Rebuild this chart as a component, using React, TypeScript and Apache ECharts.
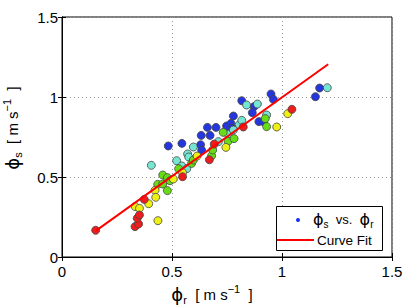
import React, { useEffect, useRef } from "react";
import * as echarts from "echarts";

const blue: number[][] = [
  [0.483, 0.694], [0.545, 0.71], [0.661, 0.81], [0.7, 0.81], [0.633, 0.76], [0.673, 0.76],
  [0.63, 0.702], [0.635, 0.667], [0.748, 0.819], [0.768, 0.835], [0.779, 0.881], [0.771, 0.804],
  [0.817, 0.977], [0.873, 0.94], [0.865, 0.902], [0.95, 1.019], [0.961, 0.985], [0.895, 0.846],
  [0.915, 0.846], [1.152, 1.002], [1.171, 1.056],
];
const cyan: number[][] = [
  [0.406, 0.573], [0.521, 0.602], [0.545, 0.569], [0.567, 0.552], [0.571, 0.644], [0.576, 0.625],
  [0.597, 0.6875], [0.711, 0.721], [0.756, 0.767], [0.779, 0.794], [0.806, 0.827], [0.817, 0.854],
  [0.839, 0.95], [0.888, 0.956], [0.93, 0.8875], [1.206, 1.058],
];
const green: number[][] = [
  [0.458, 0.5125], [0.479, 0.496], [0.491, 0.477], [0.435, 0.454], [0.458, 0.456], [0.479, 0.415],
  [0.53, 0.552], [0.589, 0.585], [0.597, 0.606], [0.68, 0.633], [0.685, 0.669], [0.733, 0.779],
  [0.755, 0.723], [0.782, 0.74], [0.924, 0.865], [0.93, 0.815],
];
const yellow: number[][] = [
  [0.333, 0.315], [0.352, 0.304], [0.394, 0.333], [0.423, 0.417], [0.426, 0.373], [0.436, 0.227],
  [0.506, 0.4875], [0.548, 0.527], [0.614, 0.631], [0.745, 0.685], [0.976, 0.8125], [1.026, 0.896],
];
const red: number[][] = [
  [0.153, 0.167], [0.332, 0.19], [0.348, 0.206], [0.342, 0.242], [0.352, 0.2625], [0.374, 0.36],
  [0.548, 0.502], [0.67, 0.608], [0.692, 0.706], [0.824, 0.8125], [1.045, 0.923],
];
const fitLine: number[][] = [[0.155, 0.165], [1.21, 1.205]];

const groups = [
  { data: blue, color: "#2336e0" },
  { data: cyan, color: "#74e6d2" },
  { data: green, color: "#66dd14" },
  { data: yellow, color: "#eef014" },
  { data: red, color: "#ee1c1c" },
];

const FONT = "Liberation Sans, Arial, Helvetica, sans-serif";

export default function App() {
  const ref = useRef<HTMLDivElement>(null);
  useEffect(() => {
    if (!ref.current) return;
    const chart = echarts.init(ref.current, undefined, { renderer: "svg" });
    const axisBase = {
      min: 0,
      max: 1.5,
      interval: 0.5,
      axisLine: { show: true, lineStyle: { color: "#000", width: 1 } },
      axisTick: { show: true, inside: true, length: 4, lineStyle: { color: "#000" } },
    };
    const richName = {
      p: { fontSize: 18, fontFamily: "DejaVu Sans", color: "#000", lineHeight: 22 },
      sub: { fontSize: 11, fontFamily: FONT, color: "#000", verticalAlign: "bottom", lineHeight: 14 },
      t: { fontSize: 15, fontFamily: FONT, color: "#000", lineHeight: 22 },
      sup: { fontSize: 11, fontFamily: FONT, color: "#000", verticalAlign: "top", lineHeight: 14 },
    };
    const option: any = {
      animation: false,
      grid: {
        left: 62, top: 17, right: 17, bottom: 50,
        outerBoundsMode: "none",
        containLabel: false,
        show: true, borderColor: "#000", borderWidth: 1, backgroundColor: "#fff",
      },
      xAxis: [
        {
          ...axisBase,
          type: "value",
          position: "bottom",
          axisLabel: { fontSize: 15, fontFamily: FONT, color: "#000", margin: 7 },
          splitLine: { show: true, lineStyle: { color: "#999", type: [1, 3], width: 1 } },
          name: "{p|ϕ}{sub|r}{t|  [ m s}{sup|−1}{t|  ]}",
          nameLocation: "middle",
          nameGap: 20,
          nameTextStyle: { rich: richName, padding: [0, 30, 0, 0] },
        },
        {
          ...axisBase,
          type: "value",
          position: "top",
          axisLabel: { show: false },
          splitLine: { show: false },
        },
      ],
      yAxis: [
        {
          ...axisBase,
          type: "value",
          position: "left",
          axisLabel: { fontSize: 15, fontFamily: FONT, color: "#000", margin: 4 },
          splitLine: { show: true, lineStyle: { color: "#999", type: [1, 3], width: 1 } },
          name: "{p|ϕ}{sub|s}{t|  [ m s}{sup|−1}{t|  ]}",
          nameLocation: "middle",
          nameGap: 39,
          nameTextStyle: { rich: richName, padding: [0, 0, 0, 18] },
        },
        {
          ...axisBase,
          type: "value",
          position: "right",
          axisLabel: { show: false },
          splitLine: { show: false },
        },
      ],
      series: [
        ...groups.map((g) => ({
          type: "scatter",
          data: g.data,
          symbolSize: 8,
          itemStyle: { color: g.color, borderColor: "#444", borderWidth: 0.8, opacity: 1 },
        })),
        {
          type: "line",
          data: fitLine,
          showSymbol: false,
          lineStyle: { color: "#ff0000", width: 2 },
          z: 3,
        },
      ],
      graphic: [
        {
          type: "rect",
          shape: { x: 276.5, y: 206.5, width: 106, height: 44 },
          style: { fill: "#fff", stroke: "#000", lineWidth: 1 },
          z: 100,
        },
        {
          type: "circle",
          shape: { cx: 298, cy: 220, r: 2 },
          style: { fill: "#1a2fff" },
          z: 101,
        },
        {
          type: "text",
          x: 313,
          y: 219,
          style: {
            text: "{p|ϕ}{sub|s}{t|  vs.  }{p|ϕ}{sub|r}",
            rich: {
              p: { fontSize: 16, fontFamily: "DejaVu Sans", fill: "#000", lineHeight: 20 },
              sub: { fontSize: 10, fontFamily: FONT, fill: "#000", verticalAlign: "bottom", lineHeight: 12 },
              t: { fontSize: 13, fontFamily: FONT, fill: "#000", lineHeight: 20 },
            },
            verticalAlign: "middle",
          },
          z: 101,
        },
        {
          type: "line",
          shape: { x1: 277, y1: 240, x2: 314, y2: 240 },
          style: { stroke: "#ff0000", lineWidth: 2 },
          z: 101,
        },
        {
          type: "text",
          x: 317,
          y: 240,
          style: { text: "Curve Fit", fontSize: 13.5, fontFamily: FONT, fill: "#000", verticalAlign: "middle" },
          z: 101,
        },
      ],
    };
    chart.setOption(option);
    return () => chart.dispose();
  }, []);
  return <div ref={ref} style={{ width: 409, height: 307, position: "absolute", left: 0, top: 0 }} />;
}
